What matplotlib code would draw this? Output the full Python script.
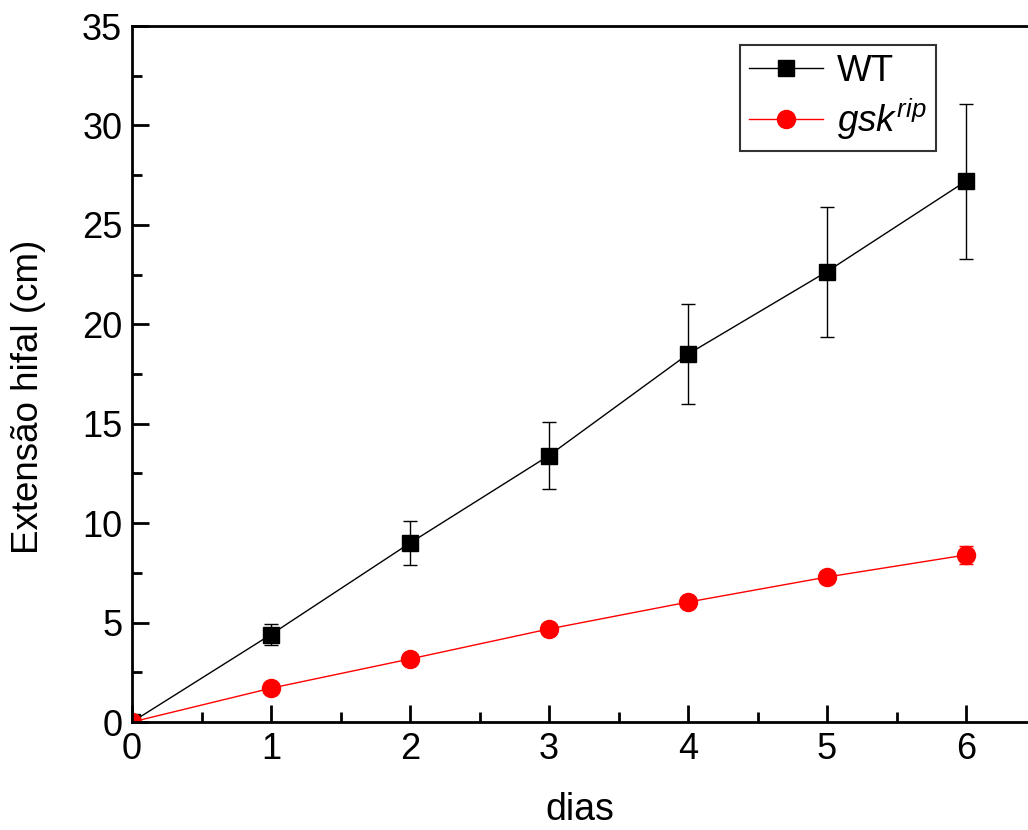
import matplotlib
matplotlib.use("Agg")
import matplotlib.pyplot as plt
from matplotlib.ticker import MultipleLocator

plt.rcParams['font.family'] = ['Liberation Sans', 'DejaVu Sans']
plt.rcParams['mathtext.fontset'] = 'custom'
plt.rcParams['mathtext.rm'] = 'Liberation Sans'
plt.rcParams['mathtext.it'] = 'Liberation Sans:italic'

days = [0, 1, 2, 3, 4, 5, 6]
wt = [0, 4.4, 9.0, 13.4, 18.5, 22.65, 27.2]
wt_err = [0, 0.55, 1.1, 1.7, 2.5, 3.27, 3.9]
gsk = [0, 1.7, 3.17, 4.68, 6.03, 7.29, 8.4]
gsk_err = [0, 0.1, 0.15, 0.15, 0.2, 0.3, 0.45]

fig = plt.figure(figsize=(10.28, 8.3), dpi=100)
ax = fig.add_axes([132/1028, 108/830, 1 - 132/1028, (722-26)/830])

c1 = ax.errorbar(days, wt, yerr=wt_err, color='black', lw=1, marker='s', ms=11,
                 capsize=5, elinewidth=1, capthick=1)
c2 = ax.errorbar(days, gsk, yerr=gsk_err, color='red', ecolor='red', lw=1, marker='o', ms=13,
                 capsize=5, elinewidth=1, capthick=1)

ax.set_xlim(0, 896/139)
ax.set_ylim(0, 35)
ax.xaxis.set_major_locator(MultipleLocator(1))
ax.xaxis.set_minor_locator(MultipleLocator(0.5))
ax.yaxis.set_major_locator(MultipleLocator(5))
ax.yaxis.set_minor_locator(MultipleLocator(2.5))
ax.tick_params(which='both', direction='in', width=2, labelsize=26)
ax.tick_params(which='major', length=12, pad=7)
ax.tick_params(which='minor', length=7)
ax.tick_params(axis='x', top=False)
for s in ['left', 'bottom', 'top']:
    ax.spines[s].set_linewidth(2)
ax.spines['right'].set_visible(False)

ax.set_xlabel('dias', fontsize=27, labelpad=18)
ax.set_ylabel('Extensão hifal (cm)', fontsize=26.5)
ax.yaxis.set_label_coords(-(132 - 46) / 896, (722 - 397) / 696)

leg = ax.legend([c1[0], c2[0]], ['WT', '$\\mathit{gsk}^{\\mathit{rip}}$'],
                loc='upper right', bbox_to_anchor=(936/1028, (830-45)/830),
                bbox_transform=fig.transFigure, fontsize=26.5, frameon=True,
                fancybox=False, edgecolor='black', handlelength=2.0,
                borderpad=0.25, labelspacing=0.2, handletextpad=0.4,
                borderaxespad=0)
leg.get_frame().set_linewidth(1.5)

fig.savefig('out.png', dpi=100)
